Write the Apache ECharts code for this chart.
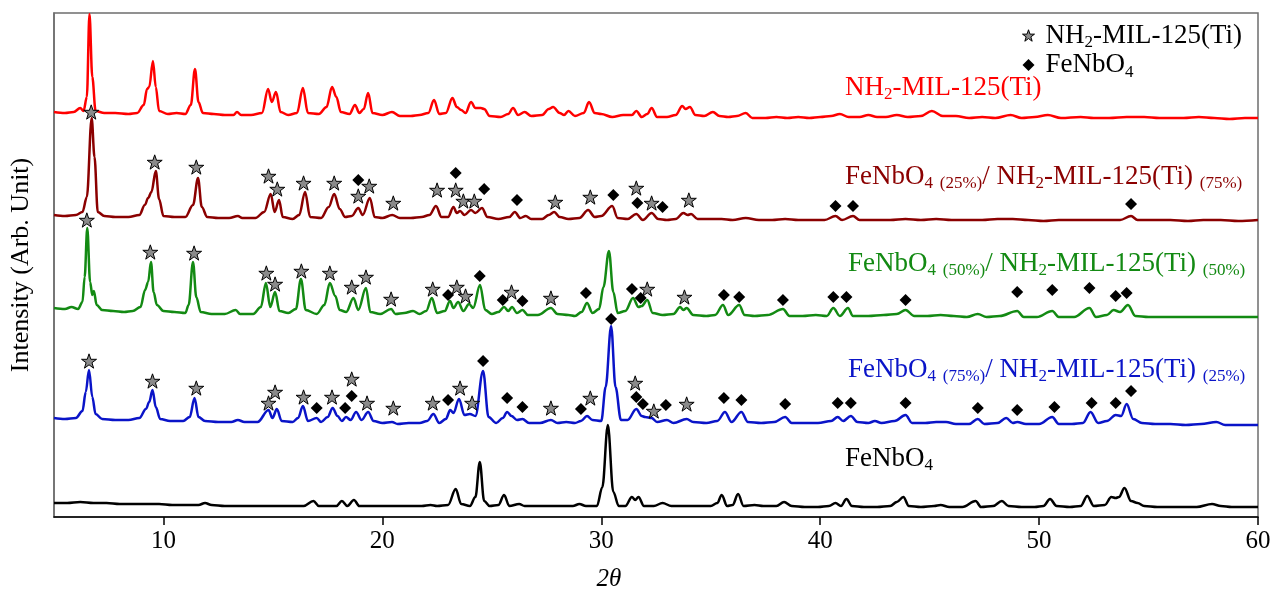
<!DOCTYPE html>
<html><head><meta charset="utf-8">
<script src="https://cdn.jsdelivr.net/npm/echarts@6/dist/echarts.min.js"></script>
<style>html,body{margin:0;padding:0;background:#fff}#c{width:1271px;height:590px}</style>
</head><body><div id="c"></div>
<script>
// ---- axis ticks ----
const xTicks = [10, 20, 30, 40, 50, 60];

// ---- traces: [2theta, stacked intensity (arb. unit)] ----
const redData = [[5.0,405],[5.5,404],[5.9,405],[6.2,409],[6.35,406],[6.5,420],[6.62,503],[6.75,440],[6.9,406],[7.3,404],[7.8,404],[8.4,403],[8.8,404],[9.1,412],[9.25,428],[9.35,430],[9.52,456],[9.65,430],[9.8,406],[10.2,403],[10.6,404],[11.0,403],[11.25,412],[11.44,448],[11.6,415],[11.8,404],[12.3,403],[12.8,402],[13.2,402],[13.36,405],[13.55,402],[14.0,402],[14.5,404],[14.78,428],[14.95,415],[15.14,425],[15.35,405],[15.7,402],[16.1,404],[16.37,429],[16.6,404],[17.1,403],[17.45,410],[17.7,430],[17.9,420],[18.1,405],[18.5,403],[18.75,412],[18.95,404],[19.15,408],[19.35,424],[19.55,404],[20.0,402],[20.44,405],[20.8,401],[21.3,401],[21.7,402],[22.1,404],[22.36,417],[22.6,403],[22.9,404],[23.2,419],[23.4,410],[23.6,407],[23.8,404],[24.05,415],[24.25,409],[24.5,409],[24.65,408],[24.9,401],[25.4,400],[25.75,403],[25.97,409],[26.2,402],[26.5,405],[26.8,401],[27.3,402],[27.6,408],[27.8,410],[28.1,404],[28.3,402],[28.5,406],[28.8,401],[29.2,404],[29.44,415],[29.7,404],[30.0,403],[30.5,400],[31.0,402],[31.4,402],[31.6,406],[31.85,400],[32.1,403],[32.3,409],[32.55,400],[33.0,400],[33.4,402],[33.7,411],[33.85,408],[34.05,410],[34.3,402],[34.7,401],[35.1,405],[35.4,401],[35.8,400],[36.2,401],[36.6,404],[36.9,399],[37.5,399],[38.0,400],[38.5,399],[39.0,400],[39.5,399],[40.0,400],[40.5,401],[40.9,403],[41.3,400],[41.8,400],[42.2,402],[42.6,400],[43.0,400],[43.5,402],[44.0,400],[44.6,401],[45.1,406],[45.6,401],[46.2,401],[46.8,399],[47.4,400],[48.0,399],[48.7,402],[49.2,399],[49.8,400],[50.4,402],[51.0,399],[51.9,400],[52.5,399],[53.2,399],[54.0,400],[54.8,400],[55.5,399],[56.0,399],[56.6,399],[57.3,400],[58.0,399],[58.7,398],[59.4,399],[60.0,399]];
const darkRedData = [[5.0,302],[5.5,301],[6.0,302],[6.3,305],[6.5,320],[6.72,399],[6.85,360],[7.0,305],[7.3,301],[7.8,300],[8.4,300],[8.9,302],[9.15,312],[9.3,319],[9.45,325],[9.65,346],[9.8,318],[10.0,301],[10.5,300],[11.0,300],[11.35,312],[11.58,339],[11.75,310],[12.0,300],[12.5,299],[13.0,299],[13.4,301],[13.6,299],[14.2,299],[14.6,305],[14.9,323],[15.08,305],[15.28,317],[15.45,300],[15.9,298],[16.2,302],[16.47,325],[16.7,300],[17.2,299],[17.55,310],[17.8,323],[18.05,308],[18.3,300],[18.6,301],[18.9,309],[19.1,302],[19.43,319],[19.65,300],[20.0,299],[20.45,302],[20.8,299],[21.3,299],[21.8,300],[22.15,302],[22.45,311],[22.7,300],[23.0,300],[23.25,310],[23.4,304],[23.55,306],[23.75,302],[24.05,307],[24.25,304],[24.55,309],[24.8,300],[25.3,298],[25.8,300],[26.05,305],[26.3,299],[26.55,301],[26.8,298],[27.3,298],[27.6,302],[27.85,305],[28.1,300],[28.5,298],[29.0,299],[29.4,307],[29.7,300],[30.0,301],[30.5,311],[30.75,299],[31.2,298],[31.6,303],[31.9,297],[32.3,304],[32.6,298],[33.0,297],[33.4,298],[33.75,304],[33.95,302],[34.1,303],[34.4,298],[35.0,298],[35.5,298],[36.0,297],[36.6,299],[37.2,297],[37.8,297],[38.4,298],[39.0,297],[39.6,297],[40.2,297],[40.7,301],[41.0,297],[41.5,301],[41.8,297],[42.5,297],[43.2,297],[43.9,298],[44.6,297],[45.3,298],[46.0,297],[46.7,297],[47.4,297],[48.1,298],[48.8,298],[49.5,297],[50.2,296],[50.9,297],[51.6,297],[52.3,297],[53.0,297],[53.7,297],[54.2,301],[54.5,297],[55.2,297],[56.0,297],[56.8,296],[57.5,297],[58.3,297],[59.1,296],[60.0,297]];
const greenData = [[5.0,209],[5.5,208],[5.8,210],[6.1,208],[6.3,215],[6.4,240],[6.52,289],[6.65,235],[6.75,222],[6.82,226],[6.95,212],[7.2,207],[7.7,206],[8.2,205],[8.6,206],[8.95,210],[9.16,227],[9.3,235],[9.43,255],[9.55,225],[9.7,212],[10.0,206],[10.5,205],[11.0,204],[11.15,212],[11.35,255],[11.5,220],[11.7,205],[12.2,203],[12.8,203],[13.3,207],[13.5,203],[14.1,203],[14.45,210],[14.68,234],[14.88,210],[15.1,225],[15.3,206],[15.7,204],[16.05,208],[16.28,238],[16.5,207],[17.0,203],[17.35,212],[17.6,234],[17.85,221],[18.05,207],[18.35,205],[18.68,219],[18.9,207],[19.25,229],[19.45,205],[19.9,203],[20.4,208],[20.6,203],[21.0,204],[21.4,206],[21.7,203],[22.0,206],[22.26,219],[22.5,204],[22.85,206],[23.09,216],[23.25,209],[23.46,215],[23.7,206],[23.96,213],[24.15,209],[24.46,232],[24.7,207],[25.0,203],[25.3,205],[25.56,210],[25.75,206],[25.92,210],[26.15,204],[26.4,207],[26.65,202],[27.1,202],[27.7,209],[28.0,203],[28.5,202],[28.8,201],[29.1,205],[29.35,214],[29.6,204],[29.9,208],[30.1,230],[30.35,266],[30.55,225],[30.75,204],[31.1,206],[31.45,219],[31.7,210],[31.85,211],[32.1,217],[32.35,204],[32.8,202],[33.3,203],[33.6,210],[33.75,207],[33.9,209],[34.2,202],[34.8,201],[35.2,202],[35.56,212],[35.8,202],[36.3,212],[36.55,202],[37.0,201],[37.6,202],[38.3,208],[38.6,201],[39.2,201],[39.8,202],[40.3,201],[40.6,209],[40.9,201],[41.27,209],[41.5,201],[42.2,201],[42.9,202],[43.5,203],[43.9,207],[44.3,201],[44.9,201],[45.5,202],[46.1,201],[46.7,200],[47.2,203],[47.6,200],[48.2,201],[49.0,206],[49.3,200],[49.9,200],[50.6,206],[50.9,200],[51.6,200],[52.3,209],[52.6,200],[53.1,202],[53.4,207],[53.7,205],[54.06,212],[54.4,201],[55.0,200],[55.7,200],[56.4,200],[57.1,200],[57.8,200],[58.5,200],[59.2,200],[60.0,200]];
const blueData = [[5.0,99],[5.5,98],[6.0,99],[6.3,106],[6.45,125],[6.6,147],[6.75,120],[6.9,103],[7.2,98],[7.8,97],[8.4,97],[8.9,99],[9.2,108],[9.35,115],[9.5,127],[9.65,110],[9.85,98],[10.3,96],[10.9,96],[11.2,100],[11.42,119],[11.6,100],[11.9,96],[12.5,95],[13.1,95],[13.4,97],[13.7,95],[14.3,95],[14.8,107],[14.98,99],[15.18,108],[15.4,96],[15.9,95],[16.15,99],[16.37,111],[16.6,96],[17.0,99],[17.2,95],[17.5,100],[17.73,109],[17.95,101],[18.15,96],[18.34,100],[18.55,97],[18.8,105],[19.05,97],[19.35,105],[19.6,96],[20.0,94],[20.44,95],[20.7,93],[21.2,94],[21.7,94],[22.05,96],[22.33,103],[22.6,94],[22.9,98],[23.1,107],[23.25,104],[23.5,118],[23.75,102],[24.0,103],[24.25,101],[24.6,146],[24.85,100],[25.2,94],[25.5,99],[25.7,105],[25.9,101],[26.15,97],[26.4,98],[26.7,94],[27.2,94],[27.7,97],[28.0,94],[28.4,95],[28.8,94],[29.07,96],[29.35,101],[29.6,97],[30.0,96],[30.2,130],[30.45,191],[30.65,130],[30.9,97],[31.2,97],[31.6,108],[31.85,101],[32.0,100],[32.3,99],[32.55,95],[33.0,97],[33.3,94],[33.9,98],[34.2,95],[34.8,94],[35.3,96],[35.65,105],[35.95,95],[36.4,105],[36.7,95],[37.3,94],[37.9,95],[38.4,100],[38.7,94],[39.3,94],[39.9,94],[40.5,96],[40.8,100],[41.05,96],[41.4,101],[41.7,95],[42.2,94],[42.5,96],[42.8,94],[43.4,96],[43.9,102],[44.2,94],[44.8,94],[45.3,95],[45.75,95],[46.2,93],[46.8,93],[47.2,98],[47.5,93],[48.1,94],[48.5,99],[48.8,94],[49.0,95],[49.4,93],[50.0,93],[50.6,100],[50.9,93],[51.5,93],[52.0,94],[52.35,105],[52.7,94],[53.1,96],[53.5,102],[53.75,101],[54.0,113],[54.3,98],[54.7,94],[55.3,93],[56.0,93],[56.7,92],[57.4,93],[58.1,95],[58.5,92],[59.2,92],[60.0,92]];
const blackData = [[5.0,14],[5.6,14],[6.2,15],[6.8,14],[7.4,14],[8.0,13],[8.6,13],[9.2,13],[9.8,13],[10.4,12],[11.0,12],[11.6,12],[11.9,14],[12.2,12],[12.8,11],[13.4,11],[14.0,11],[14.6,11],[15.2,11],[15.8,11],[16.4,11],[16.85,16],[17.1,11],[17.6,11],[17.9,11],[18.15,16],[18.4,11],[18.7,17],[18.95,11],[19.5,11],[20.1,11],[20.7,11],[21.3,11],[21.8,11],[22.2,12],[22.5,11],[23.0,12],[23.35,28],[23.6,13],[24.0,11],[24.25,20],[24.45,55],[24.65,16],[24.9,11],[25.3,12],[25.56,22],[25.8,11],[26.25,13],[26.5,11],[27.0,11],[27.6,11],[28.2,11],[28.7,11],[29.0,13],[29.3,11],[29.8,11],[30.05,30],[30.3,92],[30.55,25],[30.8,11],[31.1,11],[31.4,20],[31.55,17],[31.7,20],[31.95,11],[32.4,11],[32.8,14],[33.2,11],[33.8,11],[34.4,11],[35.0,11],[35.3,14],[35.5,22],[35.75,11],[36.0,12],[36.25,23],[36.5,11],[37.0,12],[37.4,11],[38.0,11],[38.35,15],[38.7,11],[39.3,10],[39.9,10],[40.4,11],[40.7,14],[40.95,11],[41.2,18],[41.45,11],[42.0,10],[42.6,10],[43.2,11],[43.5,15],[43.8,20],[44.05,11],[44.6,10],[45.2,11],[45.5,12],[45.9,10],[46.5,10],[47.1,16],[47.35,10],[47.9,11],[48.3,16],[48.6,11],[49.2,10],[49.8,10],[50.2,11],[50.5,18],[50.8,11],[51.4,10],[51.9,11],[52.2,21],[52.5,11],[53.0,12],[53.3,20],[53.5,19],[53.65,20],[53.9,29],[54.2,16],[54.5,14],[54.8,11],[55.4,10],[56.0,10],[56.6,10],[57.2,10],[57.9,13],[58.3,11],[58.8,10],[59.4,10],[60.0,10]];

// ---- phase markers (2theta, height) ----
const darkRedStars = [[6.7,405],[9.6,355],[11.5,350],[14.8,341],[15.2,328],[16.4,334],[17.8,334],[18.9,321],[19.4,331],[20.5,314],[22.5,327],[23.35,327],[23.7,316],[24.2,316],[27.9,315],[29.5,320],[31.6,329],[32.3,314],[34.0,317]];
const darkRedDiamonds = [[18.9,337],[23.35,344],[24.65,328],[26.15,317],[30.55,322],[31.65,314],[32.8,310],[40.7,311],[41.5,311],[54.2,313]];
const greenStars = [[6.5,297],[9.4,265],[11.4,264],[14.7,244],[15.1,233],[16.3,246],[17.6,244],[18.6,230],[19.25,240],[20.4,218],[22.3,228],[23.4,230],[23.8,221],[25.9,225],[27.7,219],[32.1,228],[33.8,220]];
const greenDiamonds = [[23.0,222],[24.45,241],[25.5,217],[26.4,216],[29.3,224],[31.4,228],[31.8,219],[35.6,222],[36.3,220],[38.3,217],[40.6,220],[41.2,220],[43.9,217],[49.0,225],[50.6,227],[52.3,229],[53.5,221],[54.0,224]];
const blueStars = [[6.6,156],[9.5,136],[11.5,129],[14.8,114],[15.1,125],[16.4,120],[17.7,120],[18.6,138],[19.3,114],[20.5,109],[22.3,114],[23.55,129],[24.1,114],[27.7,109],[29.5,119],[31.55,134],[32.4,106],[33.9,113]];
const blueDiamonds = [[17.0,109],[18.3,109],[18.6,121],[23.0,117],[24.6,156],[25.7,119],[26.4,110],[29.07,108],[30.45,198],[31.6,120],[31.9,113],[32.95,112],[35.6,119],[36.4,117],[38.4,113],[40.8,114],[41.4,114],[43.9,114],[47.2,109],[49.0,107],[50.7,110],[52.4,114],[53.5,114],[54.2,126]];

// ---- texts ----
const seriesLabels = [
  '{m|NH}{s|2}{m|-MIL-125(Ti)}',
  '{m|FeNbO}{s|4}{m| }{s|(25%)}{m|/ NH}{s|2}{m|-MIL-125(Ti) }{s|(75%)}',
  '{m|FeNbO}{s|4}{m| }{s|(50%)}{m|/ NH}{s|2}{m|-MIL-125(Ti) }{s|(50%)}',
  '{m|FeNbO}{s|4}{m| }{s|(75%)}{m|/ NH}{s|2}{m|-MIL-125(Ti) }{s|(25%)}',
  '{m|FeNbO}{s|4}'
];
const legendLabels = { star: '{m|NH}{s|2}{m|-MIL-125(Ti)}', diamond: '{m|FeNbO}{s|4}' };
const yAxisName = 'Intensity (Arb. Unit)';
const xAxisName = '2θ';

const FONT = '"Liberation Serif","Times New Roman",serif';
const colors = ['#ff0000', '#8b0000', '#138a13', '#0a14c8', '#000000'];
const traces = [redData, darkRedData, greenData, blueData, blackData];
const labelPos = [[845, 74], [845, 163], [848, 250], [848, 356], [845, 445]];
const STAR = 'path://M50,0 L61.8,35.1 L98.1,35.1 L68.8,56.9 L79.4,91.9 L50,70.5 L20.6,91.9 L31.2,56.9 L1.9,35.1 L38.2,35.1 Z';
const starStyle = { color: '#8a8a8a', borderColor: '#000', borderWidth: 1, opacity: 1 };

function rich(color) {
  return {
    m: { fontFamily: FONT, fontSize: 27, lineHeight: 32, color: color, fill: color, verticalAlign: 'middle' },
    s: { fontFamily: FONT, fontSize: 17, lineHeight: 17, color: color, fill: color, verticalAlign: 'bottom' }
  };
}

const series = traces.map((d, i) => ({
  type: 'line', data: d, showSymbol: false, smooth: 0.35, smoothMonotone: 'x',
  lineStyle: { color: colors[i], width: 2.5 }, itemStyle: { color: colors[i] },
  z: 2, silent: true, animation: false
}));
series.push({
  name: 'star', type: 'scatter', symbol: STAR, symbolSize: 15, symbolKeepAspect: true,
  data: [].concat(darkRedStars, greenStars, blueStars),
  itemStyle: starStyle, z: 5, animation: false
});
series.push({
  name: 'diamond', type: 'scatter', symbol: 'diamond', symbolSize: 12,
  data: [].concat(darkRedDiamonds, greenDiamonds, blueDiamonds),
  itemStyle: { color: '#000', opacity: 1 }, z: 5, animation: false
});

const graphic = seriesLabels.map((t, i) => ({
  type: 'text', left: labelPos[i][0], top: labelPos[i][1], z: 10,
  style: { text: t, rich: rich(colors[i]), fill: colors[i] }
}));

const chart = echarts.init(document.getElementById('c'), null, { renderer: 'canvas' });
chart.setOption({
  animation: false,
  backgroundColor: '#fff',
  grid: { left: 54, right: 13, top: 13, bottom: 73, show: true, borderColor: '#6e6e6e', borderWidth: 1.5,
          containLabel: false, outerBoundsMode: 'none' },
  xAxis: {
    type: 'value', min: 5, max: 60,
    name: xAxisName, nameLocation: 'middle', nameGap: 50,
    nameTextStyle: { fontFamily: FONT, fontSize: 25, fontStyle: 'italic', color: '#000', padding: [0, 94, 0, 0] },
    axisLine: { show: true, lineStyle: { color: '#000', width: 1.5 } },
    axisTick: { show: true, inside: false, length: 8, lineStyle: { color: '#000', width: 1.5 }, customValues: xTicks },
    axisLabel: { fontFamily: FONT, fontSize: 25, color: '#000', margin: 12, customValues: xTicks },
    splitLine: { show: false }
  },
  yAxis: {
    type: 'value', min: 0, max: 504,
    name: yAxisName, nameLocation: 'middle', nameGap: 20,
    nameTextStyle: { fontFamily: FONT, fontSize: 26, color: '#000' },
    axisLine: { show: true, lineStyle: { color: '#6e6e6e', width: 1.5 } },
    axisTick: { show: false }, axisLabel: { show: false }, splitLine: { show: false }
  },
  legend: {
    orient: 'vertical', left: 1017, top: 17, itemGap: 0, itemWidth: 12, itemHeight: 12,
    data: [{ name: 'star', icon: STAR, itemStyle: starStyle }, { name: 'diamond', icon: 'diamond', itemStyle: { color: '#000' } }],
    formatter: n => legendLabels[n],
    textStyle: { padding: [0, 0, 0, 6], rich: rich('#000') },
    selectedMode: false
  },
  graphic: graphic,
  series: series
});
</script></body></html>
